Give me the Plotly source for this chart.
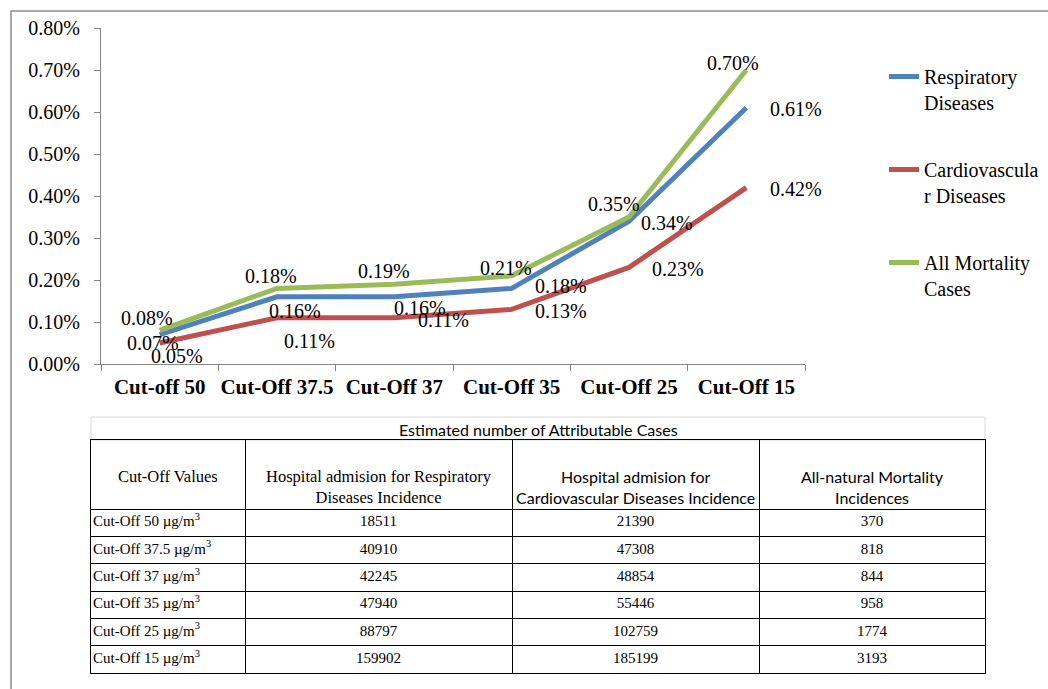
import plotly.graph_objects as go

# ---------------- data ----------------
categories = ["Cut-off 50", "Cut-Off 37.5", "Cut-Off 37", "Cut-Off 35", "Cut-Off 25", "Cut-Off 15"]
respiratory = [0.0007, 0.0016, 0.0016, 0.0018, 0.0034, 0.0061]
cardiovascular = [0.0005, 0.0011, 0.0011, 0.0013, 0.0023, 0.0042]
mortality = [0.0008, 0.0018, 0.0019, 0.0021, 0.0035, 0.0070]
series_names = ["Respiratory<br>Diseases", "Cardiovascula<br>r Diseases", "All Mortality<br>Cases"]

table_title = "Estimated number of Attributable Cases"
table_headers = ["Cut-Off Values",
                 "Hospital admision for Respiratory<br>Diseases Incidence",
                 "Hospital admision for<br>Cardiovascular Diseases Incidence",
                 "All-natural Mortality<br>Incidences"]
cutoff_labels = ["Cut-Off 50 \u00b5g/m<sup>3</sup>", "Cut-Off 37.5 \u00b5g/m<sup>3</sup>",
                 "Cut-Off 37 \u00b5g/m<sup>3</sup>", "Cut-Off 35 \u00b5g/m<sup>3</sup>",
                 "Cut-Off 25 \u00b5g/m<sup>3</sup>", "Cut-Off 15 \u00b5g/m<sup>3</sup>"]
resp_cases = [18511, 40910, 42245, 47940, 88797, 159902]
cardio_cases = [21390, 47308, 48854, 55446, 102759, 185199]
mort_cases = [370, 818, 844, 958, 1774, 3193]

# ---------------- styling ----------------
W, H = 1048, 689
SERIF = "Liberation Serif"
SANS = "Lato"
colors = ["#4F81BD", "#C0504D", "#9BBB59"]


def px(x):
    return x / W


def py(y):
    return 1 - y / H


# label offsets in pixels (dx right, dy down) per series, per point
label_offsets = [
    [(-7, 8), (18, 14), (26, 11), (49, -2), (38, 2), (50, 1)],            # respiratory
    [(17, 13), (32, 23), (49, 2), (49, 2), (49, 2), (50, 1)],             # cardiovascular
    [(-13, -12), (-6, -12), (-10, -13), (-6, -8), (-15, -13), (-13, -7)],  # mortality
]

fig = go.Figure()
all_series = [respiratory, cardiovascular, mortality]
for i, (vals, name) in enumerate(zip(all_series, series_names)):
    fig.add_trace(go.Scatter(
        x=categories, y=vals, mode="lines", name=name,
        line=dict(color=colors[i], width=5),
        legendgroup=f"g{i}", hoverinfo="skip",
    ))

annotations = []
for i, vals in enumerate(all_series):
    for j, v in enumerate(vals):
        dx, dy = label_offsets[i][j]
        annotations.append(dict(
            x=categories[j], y=v, xref="x", yref="y",
            text=f"{v*100:.2f}%", showarrow=False,
            xshift=dx, yshift=-dy,
            font=dict(family=SERIF, size=20, color="#000000"),
        ))

# ---------------- table (drawn on its own axes) ----------------
col_widths = [154, 267, 247, 226]
header_h = 69
row_h = 27.33
n_rows = len(cutoff_labels)
col_edges = [0]
for w in col_widths:
    col_edges.append(col_edges[-1] + w)
row_edges = [0, header_h] + [header_h + (k + 1) * row_h for k in range(n_rows)]
total_h = row_edges[-1]
col_centers = [(col_edges[k] + col_edges[k + 1]) / 2 for k in range(len(col_widths))]
row_centers = [header_h + (k + 0.5) * row_h for k in range(n_rows)]

table_cols = [cutoff_labels, resp_cases, cardio_cases, mort_cases]
for c, col in enumerate(table_cols):
    fig.add_trace(go.Scatter(
        x=[2 if c == 0 else col_centers[c]] * n_rows, y=row_centers,
        xaxis="x2", yaxis="y2", mode="text",
        text=[str(v) for v in col],
        textposition="middle right" if c == 0 else "middle center",
        textfont=dict(family=SERIF, size=15, color="#000000"),
        showlegend=False, hoverinfo="skip", cliponaxis=False,
    ))

header_fonts = [(SERIF, 16.5), (SERIF, 16.5), (SANS, 16), (SANS, 16)]
for c, htxt in enumerate(table_headers):
    fam, sz = header_fonts[c]
    annotations.append(dict(
        x=col_centers[c], y=25, xref="x2", yref="y2",
        text=htxt, showarrow=False, xanchor="center", yanchor="top",
        align="center", font=dict(family=fam, size=sz, color="#000000"),
    ))

annotations.append(dict(
    x=px(538), y=py(429), xref="paper", yref="paper",
    text=table_title, showarrow=False, xanchor="center", yanchor="middle",
    font=dict(family=SANS, size=16, color="#000000"),
))

fig.update_layout(
    width=W, height=H,
    margin=dict(l=0, r=0, t=0, b=0, autoexpand=False),
    paper_bgcolor="white", plot_bgcolor="white",
    font=dict(family=SERIF, size=20, color="#000000"),
    annotations=annotations,
    showlegend=True,
    legend=dict(
        x=px(884), y=py(57), xanchor="left", yanchor="top",
        font=dict(family=SERIF, size=20, color="#000000"),
        traceorder="grouped", tracegroupgap=38, valign="top",
        bgcolor="rgba(0,0,0,0)",
    ),
    xaxis=dict(
        domain=[px(101), px(805)], type="category", anchor="y",
        range=[-0.5, len(categories) - 0.5],
        tickson="boundaries", ticks="outside", ticklen=6, tickangle=0,
        tickcolor="#868686", showline=True, linecolor="#868686", linewidth=1,
        showgrid=False, zeroline=False, automargin=False,
        tickfont=dict(family=SERIF, size=21, weight="bold", color="#000000"),
        ticklabelstandoff=4,
    ),
    yaxis=dict(
        domain=[py(364), py(28)], range=[0, 0.008], dtick=0.001, anchor="x",
        tickformat=".2%", ticks="outside", ticklen=6,
        tickcolor="#868686", showline=True, linecolor="#868686", linewidth=1,
        showgrid=False, zeroline=False, automargin=False,
        tickfont=dict(family=SERIF, size=20, color="#000000"),
        ticklabelstandoff=10,
    ),
    xaxis2=dict(
        domain=[px(91), px(985)], range=[0, col_edges[-1]], anchor="y2",
        tickvals=col_edges, showticklabels=False, ticks="",
        showgrid=True, gridcolor="#000000", gridwidth=1,
        showline=True, mirror=True, linecolor="#000000", linewidth=1,
        zeroline=False, automargin=False, fixedrange=True,
    ),
    yaxis2=dict(
        domain=[py(673), py(440)], range=[total_h, 0], anchor="x2",
        tickvals=row_edges, showticklabels=False, ticks="",
        showgrid=True, gridcolor="#000000", gridwidth=1,
        showline=True, mirror=True, linecolor="#000000", linewidth=1,
        zeroline=False, automargin=False, fixedrange=True,
    ),
    shapes=[
        dict(type="rect", xref="paper", yref="paper",
             x0=px(11), y0=py(700), x1=px(1060), y1=py(11),
             line=dict(color="#8C8C8C", width=1.5), fillcolor="rgba(0,0,0,0)",
             layer="below"),
        dict(type="rect", xref="paper", yref="paper",
             x0=px(91), y0=py(440), x1=px(985), y1=py(417),
             line=dict(color="#D9D9D9", width=1), fillcolor="rgba(0,0,0,0)",
             layer="below"),
    ],
)

fig.write_html("out.html")
